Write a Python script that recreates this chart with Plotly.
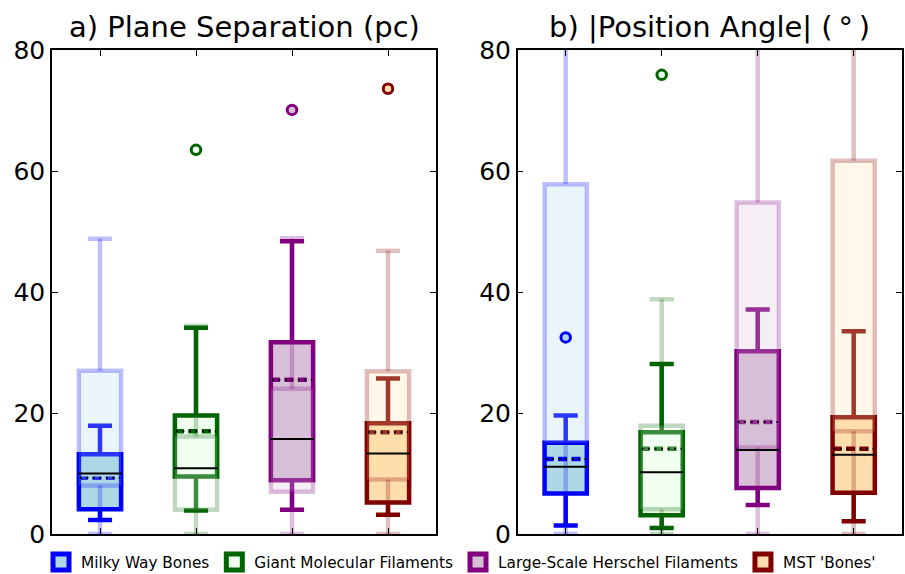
import plotly.graph_objects as go

# ---------------- data ----------------
categories = ["Milky Way Bones", "Giant Molecular Filaments",
              "Large-Scale Herschel Filaments", "MST 'Bones'"]
positions = [1, 2, 3, 4]
edge_colors = ["#0000ff", "#006400", "#800080", "#800000"]
fill_colors = ["#add8e6", "#f0fff0", "#d8bfd8", "#ffdead"]
faded_alpha = 0.25

panel_titles = ["a) Plane Separation (pc)", "b) |Position Angle| (\u2009\u00b0\u2009)"]
y_ticks = [0, 20, 40, 60, 80]

# Panel a: plane separation (pc) -- main (solid) boxes
sep_q1 = [4.1, 9.5, 8.9, 5.2]
sep_median = [10.0, 10.85, 15.7, 13.3]
sep_q3 = [13.2, 19.6, 31.7, 18.3]
sep_low = [2.3, 3.9, 4.0, 3.2]
sep_high = [17.9, 34.1, 48.4, 25.7]
sep_mean = [9.3, 17.0, 25.5, 16.8]
sep_out_pos = [2, 3, 4]
sep_out_val = [63.5, 70.1, 73.6]
# Panel a: faded (comparison) boxes
sep_f_q1 = [8.0, 4.0, 7.0, 9.0]
sep_f_q3 = [27.0, 16.1, 24.0, 26.9]
sep_f_low = [0.0, 0.0, 0.0, 0.0]
sep_f_high = [48.8, 34.4, 48.9, 46.8]

# Panel b: |position angle| (deg) -- main (solid) boxes
pa_q1 = [6.7, 3.1, 7.6, 6.8]
pa_median = [11.1, 10.2, 13.9, 13.1]
pa_q3 = [15.1, 16.8, 30.2, 19.3]
pa_low = [1.4, 1.0, 4.8, 2.1]
pa_high = [19.6, 28.1, 37.1, 33.5]
pa_mean = [12.4, 14.1, 18.5, 14.1]
pa_out_pos = [1, 2]
pa_out_val = [32.5, 75.9]
# Panel b: faded (comparison) boxes
pa_f_q1 = [15.1, 4.1, 14.3, 17.0]
pa_f_q3 = [57.8, 17.9, 54.8, 61.7]
pa_f_low = [0.0, 0.0, 0.0, 0.0]
pa_f_high = [89.5, 38.8, 89.5, 89.5]

# ---------------- style ----------------
BOX_W = 0.44
WHISK_FRAC = 0.57
LW = 4.5
PX_PER_UNIT = 96.0
FONT = "DejaVu Sans"


def rgba(hexc, a):
    h = hexc.lstrip("#")
    r, g, b = int(h[0:2], 16), int(h[2:4], 16), int(h[4:6], 16)
    return f"rgba({r},{g},{b},{a})"


panels = [
    dict(q1=sep_q1, med=sep_median, q3=sep_q3, lo=sep_low, hi=sep_high, mean=sep_mean,
         op=sep_out_pos, ov=sep_out_val,
         fq1=sep_f_q1, fq3=sep_f_q3, flo=sep_f_low, fhi=sep_f_high, xa="x", ya="y"),
    dict(q1=pa_q1, med=pa_median, q3=pa_q3, lo=pa_low, hi=pa_high, mean=pa_mean,
         op=pa_out_pos, ov=pa_out_val,
         fq1=pa_f_q1, fq3=pa_f_q3, flo=pa_f_low, fhi=pa_f_high, xa="x2", ya="y2"),
]

fig = go.Figure()

# legend entries (square swatches with thick coloured border)
for i, cat in enumerate(categories):
    fig.add_trace(go.Scatter(
        x=[None], y=[None], mode="markers", name=cat, legendgroup=cat,
        marker=dict(symbol="square", size=16, color=fill_colors[i],
                    line=dict(color=edge_colors[i], width=5)),
        hoverinfo="skip", xaxis="x", yaxis="y"))

for pi, p in enumerate(panels):
    # solid boxes
    for i, c in enumerate(positions):
        fig.add_trace(go.Box(
            x=[c], q1=[p["q1"][i]], median=[p["med"][i]], q3=[p["q3"][i]],
            lowerfence=[p["lo"][i]], upperfence=[p["hi"][i]], mean=[p["mean"][i]],
            width=BOX_W, whiskerwidth=WHISK_FRAC, boxpoints=False,
            line=dict(color=edge_colors[i], width=LW), fillcolor=fill_colors[i],
            name=categories[i], legendgroup=categories[i], showlegend=False,
            hoverinfo="skip", xaxis=p["xa"], yaxis=p["ya"]))
    # cover the coloured median drawn by the box trace
    inner = BOX_W / 2 - (LW / 2) / PX_PER_UNIT
    for i, c in enumerate(positions):
        fig.add_trace(go.Scatter(
            x=[c - inner, c + inner], y=[p["med"][i], p["med"][i]], mode="lines",
            line=dict(color=fill_colors[i], width=LW + 1.5), showlegend=False,
            hoverinfo="skip", xaxis=p["xa"], yaxis=p["ya"]))
    # faded boxes drawn on top
    for i, c in enumerate(positions):
        h = BOX_W / 2
        cw = BOX_W * WHISK_FRAC / 2
        q1, q3, lo, hi = p["fq1"][i], p["fq3"][i], p["flo"][i], p["fhi"][i]
        xs = [c, c + h, c + h, c - h, c - h, c, None,
              c, c, None, c, c, None,
              c - cw, c + cw, None, c - cw, c + cw]
        ys = [q1, q1, q3, q3, q1, q1, None,
              q1, lo, None, q3, hi, None,
              lo, lo, None, hi, hi]
        fig.add_trace(go.Scatter(
            x=xs, y=ys, mode="lines", fill="toself",
            fillcolor=rgba(fill_colors[i], faded_alpha),
            line=dict(color=rgba(edge_colors[i], faded_alpha), width=LW),
            showlegend=False, hoverinfo="skip", xaxis=p["xa"], yaxis=p["ya"]))
    # medians (black solid) and means (black dotted)
    mx, my, ax_, ay_ = [], [], [], []
    for i, c in enumerate(positions):
        mx += [c - BOX_W / 2 - 0.005, c + BOX_W / 2 + 0.005, None]
        my += [p["med"][i], p["med"][i], None]
        ax_ += [c - BOX_W / 2 + 0.01, c + BOX_W / 2 - 0.01, None]
        ay_ += [p["mean"][i], p["mean"][i], None]
    fig.add_trace(go.Scatter(x=mx, y=my, mode="lines", line=dict(color="black", width=2),
                             showlegend=False, hoverinfo="skip", xaxis=p["xa"], yaxis=p["ya"]))
    fig.add_trace(go.Scatter(x=ax_, y=ay_, mode="lines",
                             line=dict(color="black", width=2, dash="2px,4.5px"),
                             showlegend=False, hoverinfo="skip", xaxis=p["xa"], yaxis=p["ya"]))
    # outliers
    idx = [positions.index(v) for v in p["op"]]
    fig.add_trace(go.Scatter(
        x=p["op"], y=p["ov"], mode="markers",
        marker=dict(symbol="circle", size=9.5, color=[fill_colors[k] for k in idx],
                    line=dict(color=[edge_colors[k] for k in idx], width=3)),
        showlegend=False, hoverinfo="skip", cliponaxis=False, xaxis=p["xa"], yaxis=p["ya"]))

dom1 = [52 / 905, 436 / 905]
dom2 = [517.7 / 905, 901.7 / 905]

xcommon = dict(range=[0.5, 4.5], tickvals=positions, showticklabels=False,
               ticks="inside", ticklen=6, tickwidth=1.2, tickcolor="black",
               showline=True, linecolor="black", linewidth=1.5, mirror="ticks",
               showgrid=False, zeroline=False)
ycommon = dict(range=[0, 80], tickvals=y_ticks, ticks="inside", ticklen=6, tickwidth=1.2,
               tickcolor="black", showline=True, linecolor="black", linewidth=1.5,
               mirror="ticks", showgrid=False, zeroline=False,
               tickfont=dict(family=FONT, size=25, color="black"), ticklabelstandoff=0)

fig.update_layout(
    width=905, height=574, autosize=False,
    margin=dict(l=0, r=0, t=50, b=40, autoexpand=False),
    paper_bgcolor="white", plot_bgcolor="white",
    boxmode="overlay",
    xaxis=dict(domain=dom1, anchor="y", **xcommon),
    yaxis=dict(anchor="x", **ycommon),
    xaxis2=dict(domain=dom2, anchor="y2", **xcommon),
    yaxis2=dict(anchor="x2", **ycommon),
    legend=dict(orientation="h", x=41 / 905, xanchor="left", y=-0.058, yanchor="middle",
                font=dict(family=FONT, size=15.3, color="black"),
                bgcolor="rgba(0,0,0,0)", borderwidth=0, itemwidth=30,
                tracegroupgap=0),
    annotations=[
        dict(text=panel_titles[0], x=(dom1[0] + dom1[1]) / 2, y=1, xref="paper", yref="paper",
             xanchor="center", yanchor="bottom", yshift=4, showarrow=False,
             font=dict(family=FONT, size=29, color="black")),
        dict(text=panel_titles[1], x=(dom2[0] + dom2[1]) / 2, y=1, xref="paper", yref="paper",
             xanchor="center", yanchor="bottom", yshift=4, showarrow=False,
             font=dict(family=FONT, size=29, color="black")),
    ],
)

fig.write_html("out.html", config={"displayModeBar": False},
               post_script="document.body.style.margin='0px';")
